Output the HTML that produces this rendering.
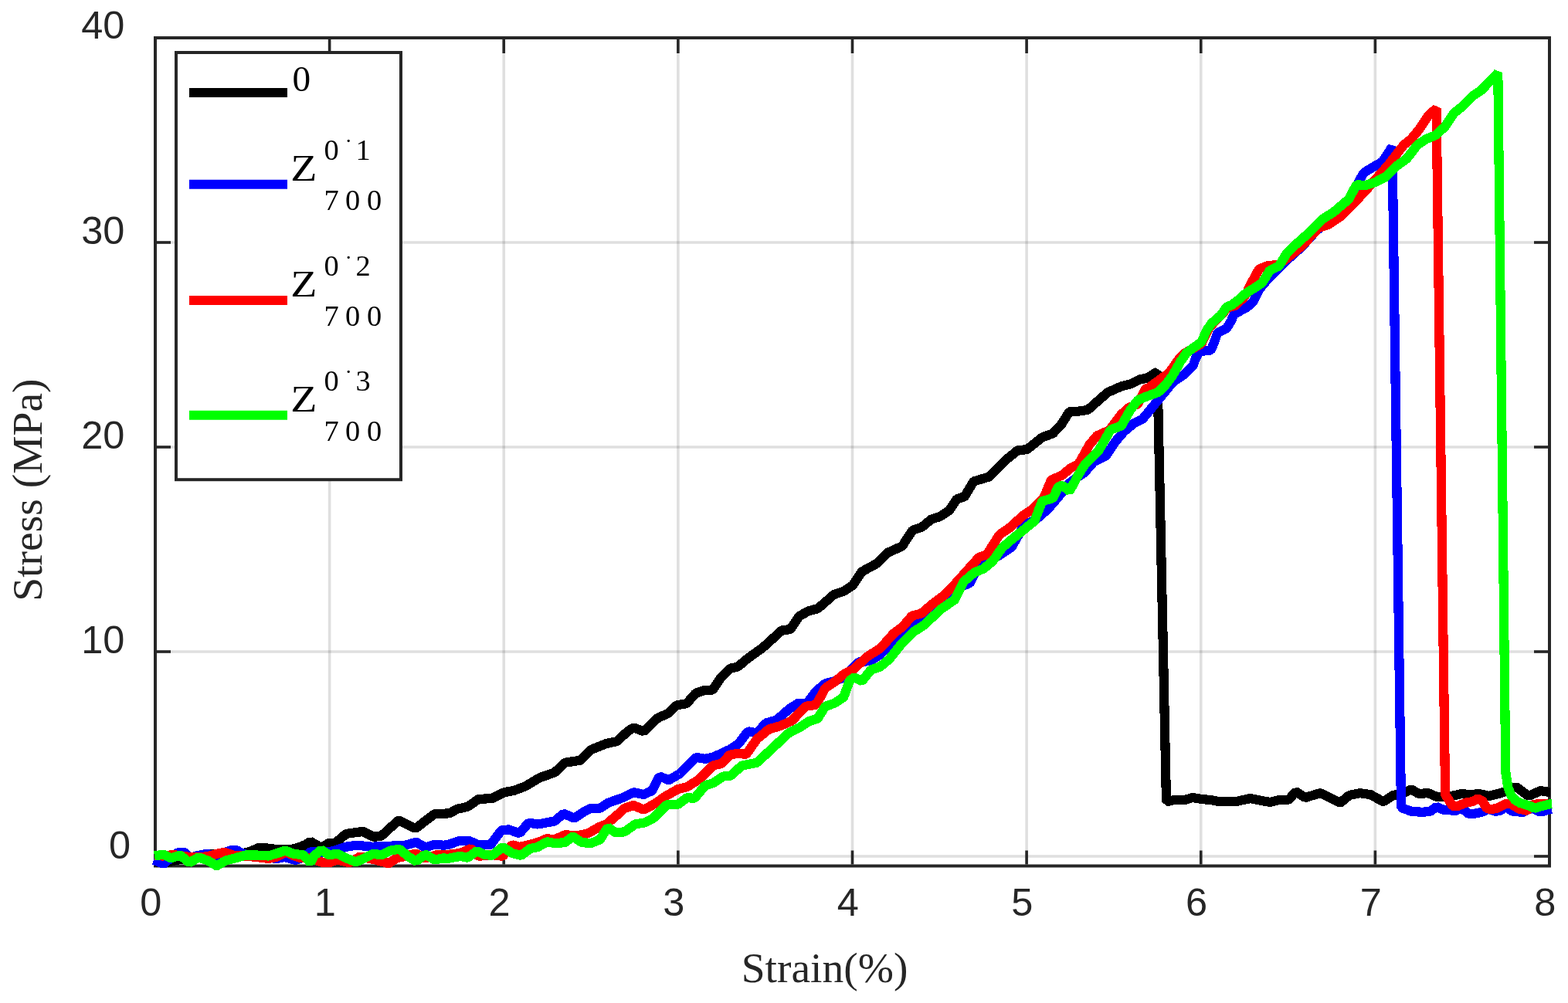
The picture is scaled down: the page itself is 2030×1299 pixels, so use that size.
<!DOCTYPE html>
<html lang="en"><head><meta charset="utf-8"><title>Stress-Strain curves</title>
<style>
html,body{margin:0;padding:0;background:#fff;}
body{width:2030px;height:1299px;overflow:hidden;}
svg{display:block;}
.tick{font-family:"Liberation Sans",sans-serif;font-size:50.5px;fill:#262626;}
.lab{font-family:"Liberation Serif",serif;font-size:55.5px;fill:#262626;}
.leg{font-family:"Liberation Serif",serif;fill:#000;}
.c{fill:none;stroke-width:12.2;stroke-linejoin:bevel;stroke-linecap:butt;}
</style></head><body>
<svg width="2030" height="1299" viewBox="0 0 2030 1299">
<rect x="0" y="0" width="2030" height="1299" fill="#ffffff"/>
<g stroke="#262626" stroke-opacity="0.15" stroke-width="3.6" fill="none">
<line x1="426.62" y1="49" x2="426.62" y2="1121.5"/>
<line x1="652.25" y1="49" x2="652.25" y2="1121.5"/>
<line x1="877.88" y1="49" x2="877.88" y2="1121.5"/>
<line x1="1103.50" y1="49" x2="1103.50" y2="1121.5"/>
<line x1="1329.12" y1="49" x2="1329.12" y2="1121.5"/>
<line x1="1554.75" y1="49" x2="1554.75" y2="1121.5"/>
<line x1="1780.38" y1="49" x2="1780.38" y2="1121.5"/>
<line x1="201" y1="1109.00" x2="2006" y2="1109.00"/>
<line x1="201" y1="844.00" x2="2006" y2="844.00"/>
<line x1="201" y1="579.00" x2="2006" y2="579.00"/>
<line x1="201" y1="314.00" x2="2006" y2="314.00"/>
</g>
<g stroke="#262626" stroke-width="4" fill="none" stroke-linecap="butt">
<rect x="201" y="49" width="1805" height="1072.5"/>
<g stroke-width="3.6">
<line x1="426.62" y1="1119.5" x2="426.62" y2="1101.5"/>
<line x1="426.62" y1="51" x2="426.62" y2="69"/>
<line x1="652.25" y1="1119.5" x2="652.25" y2="1101.5"/>
<line x1="652.25" y1="51" x2="652.25" y2="69"/>
<line x1="877.88" y1="1119.5" x2="877.88" y2="1101.5"/>
<line x1="877.88" y1="51" x2="877.88" y2="69"/>
<line x1="1103.50" y1="1119.5" x2="1103.50" y2="1101.5"/>
<line x1="1103.50" y1="51" x2="1103.50" y2="69"/>
<line x1="1329.12" y1="1119.5" x2="1329.12" y2="1101.5"/>
<line x1="1329.12" y1="51" x2="1329.12" y2="69"/>
<line x1="1554.75" y1="1119.5" x2="1554.75" y2="1101.5"/>
<line x1="1554.75" y1="51" x2="1554.75" y2="69"/>
<line x1="1780.38" y1="1119.5" x2="1780.38" y2="1101.5"/>
<line x1="1780.38" y1="51" x2="1780.38" y2="69"/>
<line x1="203" y1="1109.00" x2="221" y2="1109.00"/>
<line x1="2004" y1="1109.00" x2="1986" y2="1109.00"/>
<line x1="203" y1="844.00" x2="221" y2="844.00"/>
<line x1="2004" y1="844.00" x2="1986" y2="844.00"/>
<line x1="203" y1="579.00" x2="221" y2="579.00"/>
<line x1="2004" y1="579.00" x2="1986" y2="579.00"/>
<line x1="203" y1="314.00" x2="221" y2="314.00"/>
<line x1="2004" y1="314.00" x2="1986" y2="314.00"/>
</g>
</g>
<g class="c" shape-rendering="crispEdges">
<polyline stroke="#000000" points="199.4,1115.9 211.7,1117.8 233.4,1112.9 254.1,1109.0 276.8,1106.0 293.5,1107.0 313.2,1105.5 323.1,1103.1 334.9,1098.1 342.8,1098.1 354.6,1099.6 374.3,1100.1 382.2,1099.1 395.0,1094.2 401.8,1089.8 415.6,1097.6 426.5,1091.7 434.3,1091.7 448.1,1079.9 469.8,1076.9 483.6,1083.8 493.4,1082.9 516.1,1062.2 537.8,1073.0 562.4,1054.3 582.1,1053.3 591.8,1047.8 605.6,1044.8 619.4,1035.0 637.1,1034.0 652.9,1026.1 664.7,1024.1 680.5,1018.2 698.2,1007.4 717.9,1000.5 731.7,987.7 751.4,984.7 765.2,970.9 784.9,963.1 798.7,960.1 812.5,947.3 820.4,942.4 833.2,947.3 851.9,929.6 865.7,923.6 876.0,913.3 888.9,911.2 900.6,897.9 911.1,894.2 922.8,893.6 933.3,877.6 945.6,865.7 955.4,863.4 968.4,852.4 987.5,838.8 1012.7,816.0 1023.2,815.2 1034.9,797.9 1046.6,791.4 1058.9,788.1 1079.8,769.9 1092.1,765.9 1104.0,758.1 1115.8,740.4 1135.5,729.6 1149.3,715.8 1169.0,706.9 1169.9,704.3 1181.7,686.6 1193.5,682.7 1205.3,672.8 1217.1,668.9 1229.0,661.0 1238.8,646.2 1248.7,643.3 1260.5,623.5 1280.2,617.6 1301.9,596.0 1317.6,583.2 1329.5,582.2 1349.2,566.4 1363.0,561.5 1374.8,548.7 1384.6,532.9 1394.5,532.9 1408.3,530.9 1433.9,508.3 1451.6,500.4 1463.4,497.4 1475.3,491.5 1485.1,489.6 1498.4,481.3 1510.0,1038.5 1520.2,1036.0 1534.0,1036.0 1543.8,1033.0 1555.7,1035.0 1567.5,1036.0 1577.3,1037.9 1601.0,1037.9 1618.7,1034.0 1632.5,1036.9 1644.3,1038.9 1656.2,1036.0 1668.0,1036.0 1677.8,1025.1 1689.7,1033.0 1709.4,1027.1 1735.0,1039.9 1746.8,1030.0 1760.6,1027.1 1774.4,1029.1 1790.1,1037.9 1791.6,1037.9 1803.4,1030.0 1815.2,1028.1 1827.0,1022.2 1836.9,1028.1 1848.7,1027.1 1860.5,1032.0 1874.3,1032.0 1892.1,1028.1 1903.9,1029.1 1915.7,1028.1 1927.5,1031.0 1943.3,1027.1 1963.0,1019.2 1978.8,1031.0 1994.5,1024.1 2006.3,1026.1 2007.3,1026.1"/>
<polyline stroke="#0000ff" points="198.9,1113.9 211.7,1118.8 223.6,1109.0 230.5,1104.0 239.3,1104.0 246.2,1110.9 256.1,1108.0 266.9,1106.0 273.8,1107.0 283.7,1108.0 293.5,1103.1 299.4,1101.1 306.3,1101.1 313.2,1105.0 323.1,1108.0 334.9,1110.4 346.7,1109.0 356.6,1112.4 368.4,1110.0 382.2,1113.9 392.0,1110.9 401.8,1103.5 426.5,1103.5 448.1,1096.7 461.9,1094.7 481.6,1096.7 505.3,1095.7 525.0,1094.7 538.8,1090.7 550.6,1097.6 562.4,1093.7 574.2,1094.7 580.0,1094.1 593.8,1089.2 607.6,1089.2 619.4,1094.1 635.2,1094.1 649.0,1075.4 658.8,1074.4 672.6,1079.3 684.4,1065.5 696.3,1067.5 717.9,1063.5 729.8,1053.7 743.5,1059.6 755.4,1051.7 765.2,1046.8 777.0,1046.8 786.9,1039.9 806.6,1033.0 820.4,1026.1 833.2,1029.1 844.0,1024.1 853.9,1005.4 865.7,1010.3 879.5,1002.5 889.4,992.6 901.2,980.8 913.0,982.8 922.9,980.8 944.5,970.9 956.4,963.1 968.2,947.3 980.0,949.3 991.7,936.5 1005.5,932.5 1021.2,918.7 1033.1,910.8 1044.9,910.8 1056.7,895.1 1068.5,885.2 1080.3,882.3 1092.2,877.3 1111.9,857.6 1127.6,855.7 1139.5,847.8 1157.2,828.1 1171.0,816.3 1186.7,806.4 1206.5,786.7 1226.2,772.9 1245.9,759.1 1255.7,755.2 1265.6,735.5 1277.4,727.6 1293.2,719.7 1309.8,708.3 1325.5,680.7 1341.3,672.8 1357.0,659.0 1368.9,645.2 1384.6,625.5 1404.3,611.7 1416.2,597.9 1431.9,590.0 1443.7,572.3 1455.6,558.5 1467.4,548.7 1479.2,542.8 1511.2,503.8 1519.1,494.1 1532.9,485.2 1544.7,473.4 1547.7,464.5 1552.6,454.9 1567.4,453.9 1571.3,445.0 1576.3,431.2 1588.1,425.1 1594.0,415.3 1597.9,406.6 1613.7,398.5 1622.6,390.3 1630.4,374.5 1640.3,362.7 1652.1,350.9 1665.9,337.1 1685.6,319.4 1703.3,299.7 1725.0,281.9 1751.2,257.9 1760.0,233.3 1766.0,223.4 1775.8,217.5 1789.6,209.6 1802.5,190.0 1814.0,1046.0 1827.3,1050.8 1841.1,1051.8 1851.9,1050.8 1859.8,1044.9 1868.7,1048.8 1884.4,1049.8 1892.3,1046.8 1901.2,1053.7 1909.1,1053.7 1917.9,1051.8 1927.8,1047.8 1935.7,1050.8 1942.6,1049.8 1949.5,1044.9 1958.3,1050.8 1972.1,1051.8 1980.0,1047.8 1984.7,1046.8 1994.5,1051.7 2008.3,1047.8 2009.3,1047.8"/>
<polyline stroke="#ff0000" points="199.9,1108.0 210.8,1108.5 224.6,1107.0 239.3,1109.0 246.2,1110.4 258.1,1110.4 269.9,1109.0 283.7,1105.0 291.6,1104.0 303.4,1108.0 323.1,1109.0 347.7,1111.9 357.6,1110.0 370.4,1103.5 382.2,1109.0 388.1,1110.9 401.8,1111.4 415.6,1116.4 426.5,1117.3 436.3,1113.4 452.1,1117.3 465.9,1109.5 485.6,1113.4 503.3,1118.3 513.2,1111.4 538.8,1105.5 550.6,1111.4 564.4,1107.5 580.0,1106.9 595.8,1104.9 609.6,1099.0 619.4,1108.9 635.2,1106.9 650.9,1108.9 662.8,1094.1 672.6,1097.0 684.4,1094.1 696.3,1091.1 708.1,1086.2 717.9,1087.2 731.7,1081.3 747.5,1082.3 761.3,1079.3 775.1,1071.4 784.9,1067.5 796.7,1057.6 808.6,1046.8 820.4,1042.9 833.2,1048.8 846.0,1041.9 863.7,1030.0 877.5,1022.2 889.4,1019.2 905.1,1009.4 922.9,991.6 934.7,988.7 944.5,977.8 954.4,975.9 966.2,976.8 980.0,957.1 995.6,944.3 1009.4,940.4 1025.2,933.5 1042.9,914.8 1056.7,912.8 1068.5,891.1 1080.3,883.3 1092.2,873.4 1104.0,867.5 1123.7,849.8 1139.5,839.9 1157.2,820.2 1169.0,811.3 1180.8,797.5 1192.7,794.6 1206.5,782.8 1222.2,770.9 1234.0,759.1 1249.8,741.4 1267.5,721.7 1279.4,717.7 1280.2,714.2 1294.0,692.5 1305.8,684.6 1325.5,666.9 1337.3,659.0 1351.1,645.2 1361.0,621.6 1374.8,615.7 1386.6,605.8 1396.5,600.9 1410.2,576.3 1420.1,564.4 1435.9,557.5 1451.6,536.8 1461.5,528.0 1473.3,523.1 1483.2,503.3 1486.6,502.7 1505.3,488.9 1513.7,483.0 1520.6,473.1 1527.5,463.3 1532.9,457.8 1543.7,451.9 1555.6,445.0 1560.0,435.2 1564.9,425.3 1574.3,414.5 1583.2,405.6 1589.1,398.7 1598.9,395.8 1609.8,385.9 1613.7,380.0 1620.2,366.3 1630.0,348.5 1639.9,344.6 1655.7,342.6 1673.4,328.8 1687.2,317.0 1706.9,295.3 1720.7,290.4 1736.5,279.6 1752.2,263.8 1767.9,247.0 1781.7,231.3 1797.5,213.5 1817.2,187.9 1827.0,180.0 1836.9,168.2 1848.7,150.5 1859.6,140.2 1871.1,1029.0 1880.5,1043.9 1886.4,1044.4 1898.2,1039.5 1907.1,1038.0 1913.0,1034.5 1918.9,1037.0 1924.8,1046.8 1930.7,1048.3 1937.6,1046.8 1948.5,1041.4 1954.4,1040.4 1962.3,1044.9 1967.2,1047.8 1977.0,1049.8 1984.7,1041.9 1996.5,1040.9 2006.3,1041.9 2007.3,1041.9"/>
<polyline stroke="#00ff00" points="199.9,1108.5 211.7,1106.5 221.5,1111.4 233.3,1107.5 245.2,1117.3 257.0,1110.4 268.8,1114.4 280.6,1121.3 292.5,1114.4 304.3,1111.4 318.1,1107.5 331.9,1107.5 347.6,1108.5 357.5,1105.5 369.3,1101.6 379.2,1105.5 393.0,1107.5 401.8,1117.3 406.7,1108.5 415.6,1100.6 426.5,1107.5 436.3,1105.5 448.1,1111.4 460.9,1116.4 471.8,1111.4 483.6,1105.5 493.4,1107.5 505.3,1101.6 517.1,1099.6 528.9,1109.5 538.8,1115.4 550.6,1106.5 562.4,1113.4 574.2,1111.4 580.0,1111.8 595.8,1108.9 605.6,1110.8 617.4,1102.0 627.3,1106.9 637.1,1107.9 650.9,1097.0 662.8,1104.9 674.6,1107.9 686.4,1099.0 696.3,1097.0 708.1,1090.1 717.9,1092.1 731.7,1091.1 741.6,1083.3 753.4,1091.1 765.2,1092.1 777.0,1087.2 786.9,1071.4 796.7,1078.3 808.6,1077.3 822.4,1067.5 834.2,1065.5 846.0,1059.6 863.7,1041.9 877.5,1041.9 889.4,1033.0 899.2,1034.0 913.0,1017.2 922.9,1014.3 936.7,1005.4 946.5,1004.4 960.3,991.6 970.1,989.7 980.0,987.7 1021.2,949.3 1035.0,942.4 1046.8,934.5 1058.7,930.5 1068.5,914.8 1080.3,910.8 1092.2,903.0 1100.0,881.3 1106.0,877.3 1115.8,882.3 1127.6,867.5 1139.5,863.5 1151.3,853.7 1167.0,834.0 1182.8,818.2 1196.6,809.4 1218.3,788.7 1236.0,776.8 1247.8,753.2 1261.6,741.4 1273.4,736.5 1285.3,726.6 1297.1,709.9 1307.8,700.4 1329.5,682.7 1339.3,674.8 1349.2,649.2 1363.0,645.2 1370.8,629.5 1376.7,629.5 1384.6,636.4 1394.5,617.6 1404.3,601.9 1422.1,584.1 1437.8,556.6 1451.6,551.6 1463.4,530.9 1473.3,518.1 1485.1,513.2 1499.4,508.0 1509.3,498.2 1516.7,488.4 1522.6,478.5 1528.0,468.7 1535.9,457.3 1555.6,442.6 1562.5,427.3 1568.9,418.4 1580.2,408.6 1588.1,397.7 1595.0,394.8 1603.8,387.9 1612.7,380.0 1622.2,374.1 1634.0,366.3 1643.8,350.5 1655.7,344.6 1665.5,328.8 1677.3,317.0 1697.0,299.3 1712.8,283.5 1726.6,274.6 1746.3,257.9 1756.1,239.2 1767.9,240.1 1779.8,236.2 1793.5,229.3 1807.3,215.5 1821.1,205.7 1834.9,187.9 1846.7,180.0 1858.6,175.1 1870.4,164.3 1882.2,146.6 1892.1,138.7 1905.9,124.9 1917.7,117.0 1939.3,94.3 1949.3,1000.0 1952.3,1019.5 1956.5,1030.5 1962.0,1036.5 1968.0,1040.0 1980.0,1043.5 1986.7,1046.8 1996.5,1043.8 2008.3,1040.9 2009.3,1040.9"/>
</g>
<g class="tick">
<text x="195.3" y="1186.4" text-anchor="middle">0</text>
<text x="420.9" y="1186.4" text-anchor="middle">1</text>
<text x="646.5" y="1186.4" text-anchor="middle">2</text>
<text x="872.2" y="1186.4" text-anchor="middle">3</text>
<text x="1097.8" y="1186.4" text-anchor="middle">4</text>
<text x="1323.4" y="1186.4" text-anchor="middle">5</text>
<text x="1549.0" y="1186.4" text-anchor="middle">6</text>
<text x="1774.7" y="1186.4" text-anchor="middle">7</text>
<text x="2000.3" y="1186.4" text-anchor="middle">8</text>
<text x="169.2" y="1112.1" text-anchor="end">0</text>
<text x="161.3" y="846.2" text-anchor="end">10</text>
<text x="161.3" y="581.2" text-anchor="end">20</text>
<text x="161.3" y="316.2" text-anchor="end">30</text>
<text x="161.3" y="50.2" text-anchor="end">40</text>
</g>
<text class="lab" x="1067.6" y="1271.9" text-anchor="middle">Strain(%)</text>
<text class="lab" transform="translate(53.9 634.6) rotate(-90)" text-anchor="middle">Stress (MPa)</text>
<rect x="228" y="68" width="291" height="553.2" fill="#ffffff" stroke="#262626" stroke-width="4"/>
<line x1="245" y1="120.0" x2="372" y2="120.0" stroke="#000000" stroke-width="12"/>
<line x1="245" y1="238.8" x2="372" y2="238.8" stroke="#0000ff" stroke-width="12"/>
<line x1="245" y1="389.0" x2="372" y2="389.0" stroke="#ff0000" stroke-width="12"/>
<line x1="245" y1="537.8" x2="372" y2="537.8" stroke="#00ff00" stroke-width="12"/>
<g class="leg">
<text x="378.6" y="117.6" font-size="47.3px">0</text>
<text transform="translate(376.3 234.0) scale(1.15 1)" font-size="48.6px">Z</text>
<text y="206.6" font-size="38.4px"><tspan x="419.6">0</tspan><tspan x="438.8"> </tspan><tspan x="446.1" dy="-4.2" font-size="31px">˙</tspan><tspan x="460.4" dy="4.2">1</tspan></text>
<text y="272.2" font-size="38.4px" x="419.6 438.8 446.9 466.1 475.1">7 0 0</text>
<text transform="translate(376.3 384.2) scale(1.15 1)" font-size="48.6px">Z</text>
<text y="356.8" font-size="38.4px"><tspan x="419.6">0</tspan><tspan x="438.8"> </tspan><tspan x="446.1" dy="-4.2" font-size="31px">˙</tspan><tspan x="460.4" dy="4.2">2</tspan></text>
<text y="422.4" font-size="38.4px" x="419.6 438.8 446.9 466.1 475.1">7 0 0</text>
<text transform="translate(376.3 533.0) scale(1.15 1)" font-size="48.6px">Z</text>
<text y="505.6" font-size="38.4px"><tspan x="419.6">0</tspan><tspan x="438.8"> </tspan><tspan x="446.1" dy="-4.2" font-size="31px">˙</tspan><tspan x="460.4" dy="4.2">3</tspan></text>
<text y="571.2" font-size="38.4px" x="419.6 438.8 446.9 466.1 475.1">7 0 0</text>
</g>
</svg>
</body></html>
